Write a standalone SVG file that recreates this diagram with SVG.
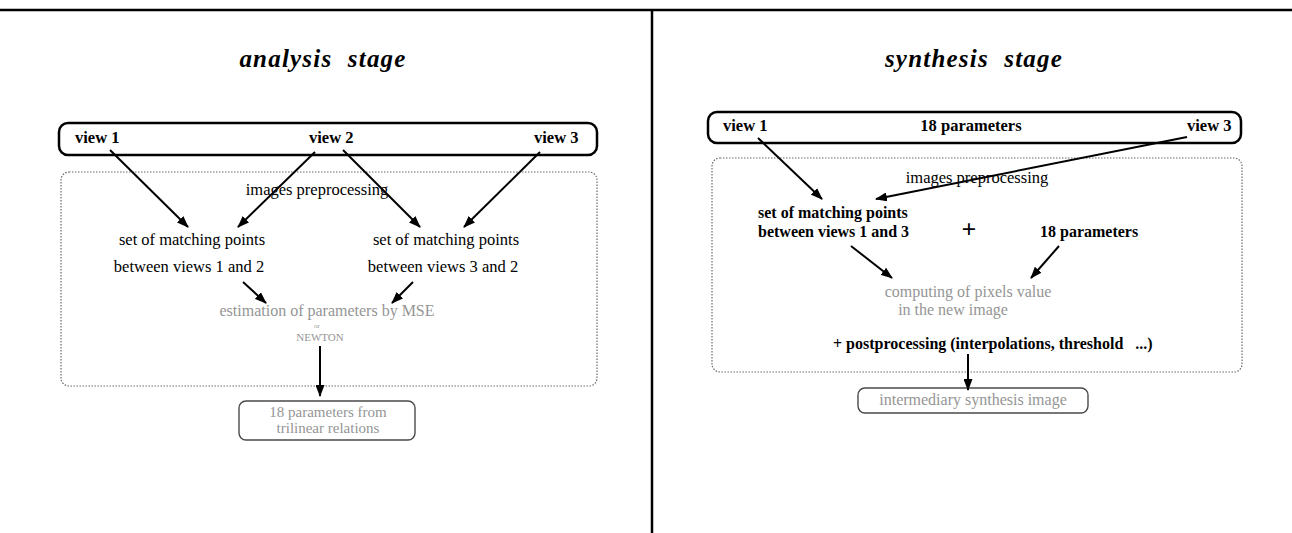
<svg xmlns="http://www.w3.org/2000/svg" width="1292" height="533" viewBox="0 0 1292 533">
  <style>
    .title { font-family: "Liberation Serif", "Times New Roman", serif; font-size: 25px; font-weight: bold; font-style: italic; letter-spacing: 1.2px; word-spacing: 8px; fill: #000; }
    .lbl { font-family: "Liberation Serif", "Times New Roman", serif; font-size: 16px; font-weight: bold; fill: #000; }
    .big { font-size: 16.5px; }
    .txt { font-family: "Liberation Serif", "Times New Roman", serif; font-size: 16.5px; fill: #000; }
    .faint { font-family: "Liberation Serif", "Times New Roman", serif; font-size: 16px; fill: #959595; }
    .small { font-size: 15px; }
    .frame { fill: none; stroke: #000; stroke-width: 2.5; }
    .views { fill: #fff; stroke: #000; stroke-width: 2.5; }
    .stage { fill: none; stroke: #6a6a6a; stroke-width: 1.2; stroke-dasharray: 1.5 1.5; }
    .result { fill: #fff; stroke: #4a4a4a; stroke-width: 1.4; }
    .arrow { fill: none; stroke: #000; stroke-width: 2; marker-end: url(#head); }
  </style>
  <defs>
    <marker id="head" markerUnits="userSpaceOnUse" markerWidth="12" markerHeight="9" refX="11" refY="4.5" orient="auto">
      <path d="M0,0 L12,4.5 L0,9 z" fill="#000"/>
    </marker>
  </defs>

  <rect width="1292" height="533" fill="#fff"/>

  <!-- page frame: top rule and centre divider -->
  <g id="frame">
    <line class="frame" x1="0" y1="10" x2="1292" y2="10"/>
    <line class="frame" x1="652" y1="10" x2="652" y2="533"/>
  </g>

  <!-- ===== analysis stage ===== -->
  <g id="analysis-title">
    <text class="title" x="323" y="67" text-anchor="middle">analysis stage</text>
  </g>

  <g id="analysis-views">
    <rect class="views" x="59" y="123" width="538" height="32" rx="9"/>
    <text class="lbl big" x="75" y="143">view 1</text>
    <text class="lbl big" x="309" y="143">view 2</text>
    <text class="lbl big" x="534" y="143">view 3</text>
  </g>

  <g id="analysis-processing">
    <rect class="stage" x="61" y="172" width="536" height="214" rx="8"/>
    <text class="txt" x="317" y="195" text-anchor="middle">images preprocessing</text>
    <text class="txt" x="192" y="245" text-anchor="middle">set of matching points</text>
    <text class="txt" x="189" y="272" text-anchor="middle">between views 1 and 2</text>
    <text class="txt" x="446" y="245" text-anchor="middle">set of matching points</text>
    <text class="txt" x="443" y="272" text-anchor="middle">between views 3 and 2</text>
    <text class="faint" x="327" y="316" text-anchor="middle">estimation of parameters by MSE</text>
    <text class="faint" x="317" y="328" text-anchor="middle" style="font-size:7px">or</text>
    <text class="faint" x="320" y="341" text-anchor="middle" style="font-size:11px">NEWTON</text>
  </g>

  <g id="analysis-result">
    <rect class="result" x="239" y="401" width="176" height="39" rx="7"/>
    <text class="faint small" x="328" y="417" text-anchor="middle">18 parameters from</text>
    <text class="faint small" x="328" y="433" text-anchor="middle">trilinear relations</text>
  </g>

  <!-- ===== synthesis stage ===== -->
  <g id="synthesis-title">
    <text class="title" x="974" y="67" text-anchor="middle">synthesis stage</text>
  </g>

  <g id="synthesis-inputs">
    <rect class="views" x="708" y="112" width="533" height="31" rx="9"/>
    <text class="lbl big" x="723" y="131">view 1</text>
    <text class="lbl big" x="971" y="131" text-anchor="middle">18 parameters</text>
    <text class="lbl big" x="1187" y="131">view 3</text>
  </g>

  <g id="synthesis-processing">
    <rect class="stage" x="712" y="158" width="530" height="214" rx="8"/>
    <text class="txt" x="977" y="183" text-anchor="middle">images preprocessing</text>
    <text class="lbl" x="758" y="218">set of matching points</text>
    <text class="lbl" x="758" y="237">between views 1 and 3</text>
    <text class="lbl" x="969" y="238" text-anchor="middle" style="font-size:26px">+</text>
    <text class="lbl" x="1040" y="237">18 parameters</text>
    <text class="faint" x="968" y="297" text-anchor="middle">computing of  pixels value</text>
    <text class="faint" x="953" y="315" text-anchor="middle">in the new image</text>
    <text class="lbl" x="833" y="349" style="white-space:pre">+ postprocessing (interpolations, threshold   ...)</text>
  </g>

  <g id="synthesis-result">
    <rect class="result" x="858" y="388" width="230" height="25" rx="7"/>
    <text class="faint" x="973" y="405" text-anchor="middle">intermediary synthesis image</text>
  </g>

  <!-- connectors -->
  <g id="connectors">
    <line class="arrow" x1="110" y1="150" x2="188" y2="227"/>
    <line class="arrow" x1="315" y1="152" x2="238" y2="227"/>
    <line class="arrow" x1="343" y1="150" x2="420" y2="227"/>
    <line class="arrow" x1="540" y1="152" x2="464" y2="227"/>
    <line class="arrow" x1="243" y1="282" x2="266" y2="303"/>
    <line class="arrow" x1="413" y1="282" x2="392" y2="303"/>
    <line class="arrow" x1="320" y1="346" x2="320" y2="396"/>

    <line class="arrow" x1="758" y1="138" x2="822" y2="199"/>
    <line class="arrow" x1="1187" y1="137" x2="876" y2="199"/>
    <line class="arrow" x1="851" y1="246" x2="892" y2="278"/>
    <line class="arrow" x1="1059" y1="246" x2="1031" y2="278"/>
    <line class="arrow" x1="968" y1="354" x2="968" y2="390"/>
  </g>
</svg>
